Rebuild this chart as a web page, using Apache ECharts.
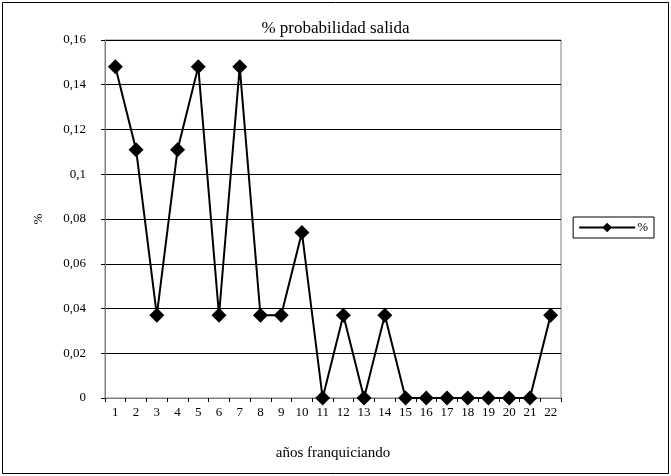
<!DOCTYPE html>
<html><head><meta charset="utf-8">
<script src="https://cdn.jsdelivr.net/npm/echarts@6/dist/echarts.min.js"></script>
<style>html,body{margin:0;padding:0;background:#fff}#c{width:671px;height:476px}</style>
</head><body><div id="c"></div>
<script>
const categories = ['1','2','3','4','5','6','7','8','9','10','11','12','13','14','15','16','17','18','19','20','21','22'];
const seriesName = '%';
const values = [0.148,0.111,0.037,0.111,0.148,0.037,0.148,0.037,0.037,0.074,0,0.037,0,0.037,0,0,0,0,0,0,0,0.037];
const titleText = '% probabilidad salida';
const xName = 'años franquiciando';
const yName = '%';
const F = 'Liberation Serif, Times New Roman, serif';
const chart = echarts.init(document.getElementById('c'));
chart.setOption({
  animation: false,
  backgroundColor: '#fff',
  graphic: [{type:'rect', shape:{x:2.5,y:2.5,width:666,height:471}, style:{fill:'none', stroke:'#000', lineWidth:1}, silent:true}],
  title: {text: titleText, left: 'center', top: 15, textStyle:{fontFamily:F, fontSize:17, fontWeight:'normal', color:'#000'}},
  legend: {right: 17, top: 217, orient:'vertical', itemWidth: 56, itemHeight: 12, padding:[4,6,4,5], borderColor:'#000', borderWidth:1, itemGap:0,
    textStyle:{fontFamily:F, fontSize:13, color:'#000', padding:[0,0,0,-3]}, data:[seriesName]},
  grid: {left: 105, right: 110, top: 40, bottom: 78, show: true, borderColor: '#808080', borderWidth: 1},
  xAxis: {type:'category', data: categories, boundaryGap: true, name: xName, nameLocation:'middle', nameGap: 48,
    nameTextStyle:{fontFamily:F, fontSize:15, color:'#000'},
    axisLine:{lineStyle:{color:'#808080', width:1}}, axisTick:{show:true, alignWithLabel:false, length:4, lineStyle:{color:'#000'}},
    axisLabel:{fontFamily:F, fontSize:13, color:'#000', margin:8, interval:0}},
  yAxis: {type:'value', min:0, max:0.16, interval:0.02, name: yName, nameLocation:'middle', nameGap:60, nameRotate:90,
    nameTextStyle:{fontFamily:F, fontSize:13, color:'#000'},
    axisLine:{show:true, lineStyle:{color:'#808080', width:1}}, axisTick:{show:true, length:4, lineStyle:{color:'#000'}},
    axisLabel:{fontFamily:F, fontSize:13, color:'#000', margin:19, formatter: v => String(+v.toFixed(2)).replace('.', ',')},
    splitLine:{show:true, lineStyle:{color:'#000', width:1}}},
  series: [{name: seriesName, type:'line', data: values, symbol:'diamond', symbolSize:15,
    lineStyle:{color:'#000', width:2}, itemStyle:{color:'#000'}}]
});
</script></body></html>
